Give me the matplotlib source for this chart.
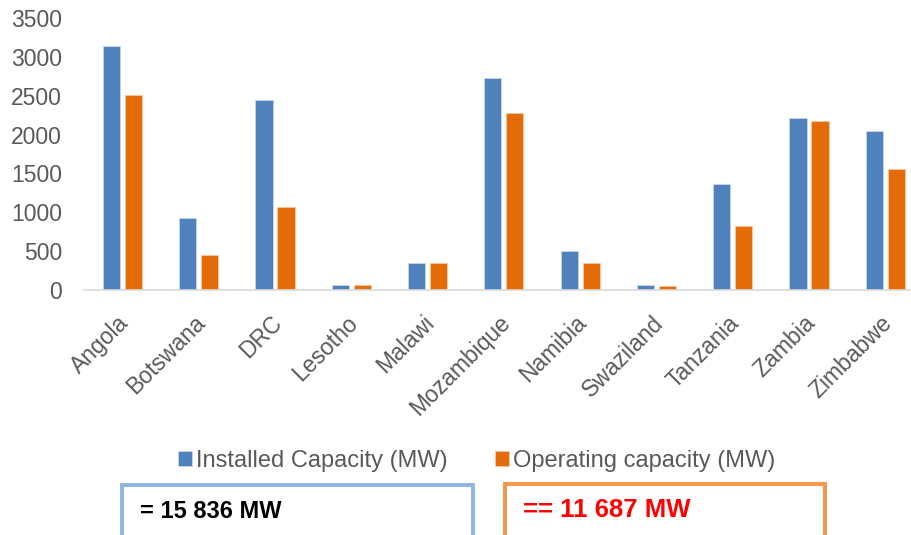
import numpy as np
import matplotlib.pyplot as plt
import matplotlib.transforms as mtransforms
from matplotlib.patches import Rectangle

plt.rcParams['font.family'] = ['Liberation Sans', 'DejaVu Sans']

countries = ['Angola', 'Botswana', 'DRC', 'Lesotho', 'Malawi', 'Mozambique',
             'Namibia', 'Swaziland', 'Tanzania', 'Zambia', 'Zimbabwe']
installed = [3139, 927, 2447, 64, 348, 2731, 498, 60, 1369, 2211, 2048]
operating = [2507, 451, 1065, 60, 348, 2280, 348, 47, 820, 2181, 1558]
yticks = [0, 500, 1000, 1500, 2000, 2500, 3000, 3500]

blue = '#4F81BD'
orange = '#E36C09'
grey = '#595959'

fig = plt.figure(figsize=(9.12, 5.35), dpi=100)
ax = fig.add_axes([0.0925, 0.458, 0.920, 0.508])

x = np.arange(len(countries))
w = 0.225
ax.bar(x - 0.144, installed, w, color=blue, edgecolor='#c9d7ea', linewidth=0.6,
       label='Installed Capacity (MW)')
ax.bar(x + 0.144, operating, w, color=orange, edgecolor='#f5c9a5', linewidth=0.6,
       label='Operating capacity (MW)')

ax.set_xlim(-0.5, len(countries) - 0.5)
ax.set_ylim(0, 3500)
ax.set_yticks(yticks)
ax.set_yticklabels([str(v) for v in yticks], fontsize=16.5, color=grey)
ax.set_xticks(x)
ax.set_xticklabels(countries, rotation=45, ha='right', rotation_mode='anchor',
                   fontsize=16.5, color=grey)
ax.tick_params(axis='both', length=0)
ax.tick_params(axis='x', pad=6)
ax.tick_params(axis='y', pad=16)
# nudge the slanted country names down and left
shift = mtransforms.ScaledTranslation(-5 / 100, -13 / 100, fig.dpi_scale_trans)
for lbl in ax.get_xticklabels():
    lbl.set_transform(lbl.get_transform() + shift)
for side in ['top', 'right', 'left']:
    ax.spines[side].set_visible(False)
ax.spines['bottom'].set_color('#d9d9d9')
ax.spines['bottom'].set_linewidth(1.2)

leg = fig.legend(loc='center', bbox_to_anchor=(0.5225, 0.138), ncol=2, frameon=False,
                 fontsize=17, handlelength=0.6, handleheight=0.6,
                 handletextpad=0.15, columnspacing=2.0)
for t in leg.get_texts():
    t.set_color(grey)

# totals boxes under the legend
fig.patches.append(Rectangle((122 / 912, -0.02), 351 / 912, 0.113,
                             transform=fig.transFigure, fill=False,
                             edgecolor='#8EB4E3', linewidth=2.8))
fig.patches.append(Rectangle((505 / 912, -0.02), 320 / 912, 0.115,
                             transform=fig.transFigure, fill=False,
                             edgecolor='#F79646', linewidth=2.8))
fig.text(140 / 912, 0.043, '= 15 836 MW', fontsize=17, fontweight='bold',
         color='black', va='center')
fig.text(523 / 912, 0.046, '== 11 687 MW', fontsize=18.5, fontweight='bold',
         color='#FF0000', va='center')

fig.savefig('out.png', dpi=100)
